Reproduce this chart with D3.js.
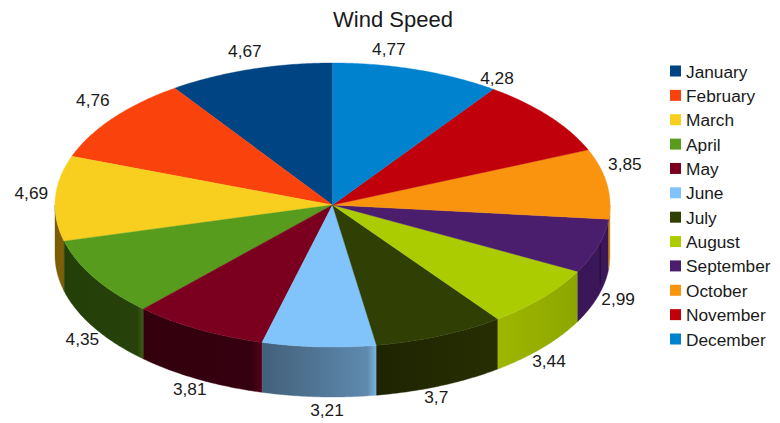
<!DOCTYPE html>
<html>
<head>
<meta charset="utf-8">
<script src="https://cdn.jsdelivr.net/npm/d3@7"></script>
<style>
  html, body { margin: 0; padding: 0; background: #fff; }
  svg { display: block; }
  text { font-family: "Liberation Sans", Arial, sans-serif; fill: #1a1a1a; }
</style>
</head>
<body>
<svg id="chart" width="780" height="423"></svg>
<script>
// Monthly mean wind speed
const months = ["January","February","March","April","May","June","July","August","September","October","November","December"];
const speeds = [4.67,4.76,4.69,4.35,3.81,3.21,3.7,3.44,2.99,3.85,4.28,4.77];
const speedLabels = ["4,67","4,76","4,69","4,35","3,81","3,21","3,7","3,44","2,99","3,85","4,28","4,77"];
const topColors = ["#004483","#fa430c","#f8cf1f","#579c1c","#7b0020","#80c4fb","#303f04","#abcc00","#4a1e6d","#fa930e","#c0000b","#0082ce"];
// Rim shading: colour at the slice's left edge, near its right edge, and at the right edge
const rimLeft  = ["#003060","#a02c08","#7a5c06","#243f08","#33000e","#42607a","#1e2400","#9db600","#3a1658","#c97a0a","#800008","#005c90"];
const rimMid   = ["#003060","#a02c08","#80610a","#26420a","#35000f","#5f8aae","#272d02","#8fa800","#3b1759","#e08a0c","#800008","#005c90"];
const rimRight = ["#003060","#a02c08","#8a6800","#3a6012","#5a0018","#7ab4e4","#262c02","#8ca500","#3a1658","#f0900c","#800008","#005c90"];
// Small nudges that keep each value label clear of the pie, from its slice's rim point
const labelNudge = [[-5,-18],[-20,-18],[-24,-5],[-12,11],[-9,10],[8,13],[-4,11],[6,13],[20,3],[18,-20],[-52,-38],[-28,-21]];

const svg = d3.select("#chart");
const cx = 332.5, cy = 205, rx = 277.5, ry = 142, depth = 50;

// Slices run anticlockwise from twelve o'clock
const pie = d3.pie().sort(null).value(d => d).startAngle(0).endAngle(2 * Math.PI);
const arcs = pie(speeds);

const px = a => cx - rx * Math.sin(a);
const py = a => cy - ry * Math.cos(a);

function ellipseArc(a0, a1) {
  const n = Math.max(2, Math.ceil((a1 - a0) / 0.01));
  return d3.range(n + 1).map(i => a0 + (a1 - a0) * i / n);
}
const line = d3.line().curve(d3.curveLinear);

// Rim gradients, one per slice, laid out along the visible edge
const defs = svg.append("defs");
const frontStart = Math.PI / 2, frontEnd = 3 * Math.PI / 2;
const front = arcs.map(d => ({
  a0: Math.max(d.startAngle, frontStart),
  a1: Math.min(d.endAngle, frontEnd),
  i: d.index
})).filter(d => d.a1 > d.a0);

front.forEach(d => {
  const g = defs.append("linearGradient")
    .attr("id", "rim" + d.i)
    .attr("gradientUnits", "userSpaceOnUse")
    .attr("x1", px(d.a0)).attr("x2", px(d.a1)).attr("y1", 0).attr("y2", 0);
  g.append("stop").attr("offset", "0").attr("stop-color", rimLeft[d.i]);
  g.append("stop").attr("offset", "0.92").attr("stop-color", rimMid[d.i]);
  g.append("stop").attr("offset", "1").attr("stop-color", rimRight[d.i]);
});

// Rim of the pie
svg.append("g").selectAll("path").data(front).join("path")
  .attr("fill", d => `url(#rim${d.i})`)
  .attr("stroke", d => `url(#rim${d.i})`)
  .attr("stroke-width", 0.4)
  .attr("d", d => {
    const pts = ellipseArc(d.a0, d.a1);
    const upper = pts.map(a => [px(a), py(a)]);
    const lower = pts.slice().reverse().map(a => [px(a), py(a) + depth]);
    return line(upper.concat(lower)) + "Z";
  });

// Dark seam running down the September rim
const septemberIndex = months.indexOf("September");
const seamAngle = arcs[septemberIndex].startAngle + 0.57 * (arcs[septemberIndex].endAngle - arcs[septemberIndex].startAngle);
svg.append("line")
  .attr("x1", px(seamAngle)).attr("x2", px(seamAngle))
  .attr("y1", py(seamAngle) + 1).attr("y2", py(seamAngle) + depth * 0.86)
  .attr("stroke", "#1d0d36")
  .attr("stroke-width", 1);

// Top face
svg.append("g").selectAll("path").data(arcs).join("path")
  .attr("fill", d => topColors[d.index])
  .attr("stroke", d => topColors[d.index])
  .attr("stroke-width", 0.4)
  .attr("d", d => {
    const pts = ellipseArc(d.startAngle, d.endAngle).map(a => [px(a), py(a)]);
    return line([[cx, cy]].concat(pts)) + "Z";
  });

// Value labels
svg.append("g").selectAll("text").data(arcs).join("text")
  .attr("text-anchor", "middle")
  .attr("dominant-baseline", "central")
  .attr("font-size", 17.3)
  .attr("x", d => {
    const m = (d.startAngle + d.endAngle) / 2;
    return px(m) + labelNudge[d.index][0];
  })
  .attr("y", d => {
    const m = (d.startAngle + d.endAngle) / 2;
    const onFront = m > frontStart && m < frontEnd;
    return py(m) + (onFront ? depth : 0) + labelNudge[d.index][1];
  })
  .text(d => speedLabels[d.index]);

// Title
svg.append("text")
  .attr("x", 393).attr("y", 27)
  .attr("text-anchor", "middle")
  .attr("font-size", 22)
  .text("Wind Speed");

// Legend
const legendY = d3.scalePoint().domain(months).range([71, 339]);
const legend = svg.append("g").selectAll("g").data(months).join("g")
  .attr("transform", d => `translate(670,${legendY(d)})`);
legend.append("rect")
  .attr("x", 0).attr("y", -5.5).attr("width", 11).attr("height", 11)
  .attr("fill", (d, i) => topColors[i]);
legend.append("text")
  .attr("x", 16).attr("y", 0.5).attr("dominant-baseline", "central")
  .attr("font-size", 17.3)
  .text(d => d);
</script>
</body>
</html>
